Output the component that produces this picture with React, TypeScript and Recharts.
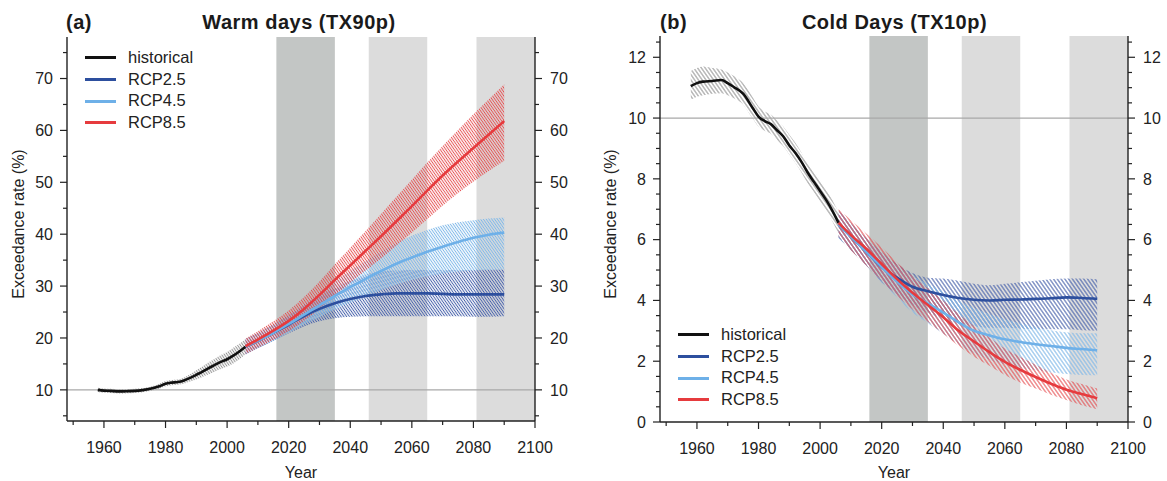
import React from 'react';
import { ComposedChart, Line, Area, XAxis, YAxis, ReferenceArea, ReferenceLine } from 'recharts';

// years
const histYears = [1958, 1960, 1962, 1965, 1968, 1970, 1972, 1975, 1978, 1980, 1982, 1984, 1986, 1988, 1990, 1992, 1994, 1996, 1998, 2000, 2002, 2004, 2006];
const rcpYears = [2006, 2010, 2015, 2020, 2025, 2030, 2035, 2040, 2045, 2050, 2055, 2060, 2065, 2070, 2075, 2080, 2085, 2090];

// (a) Warm days TX90p
const aHist = [10.0, 9.85, 9.8, 9.7, 9.75, 9.8, 9.9, 10.2, 10.7, 11.2, 11.4, 11.5, 11.8, 12.3, 12.9, 13.5, 14.2, 14.8, 15.4, 15.9, 16.6, 17.4, 18.3];
const aHistLow = [9.6, 9.45, 9.4, 9.3, 9.35, 9.4, 9.5, 9.8, 10.2, 10.7, 10.9, 11.0, 11.2, 11.6, 12.0, 12.5, 13.0, 13.5, 14.0, 14.5, 15.1, 15.9, 16.9];
const aHistHigh = [10.4, 10.25, 10.2, 10.1, 10.15, 10.2, 10.3, 10.6, 11.2, 11.7, 11.9, 12.0, 12.4, 13.0, 13.8, 14.5, 15.3, 16.0, 16.7, 17.3, 18.1, 18.9, 19.8];

const aRcp26 = [18.3, 19.5, 21.0, 22.6, 24.2, 25.6, 26.7, 27.5, 28.1, 28.4, 28.6, 28.6, 28.6, 28.5, 28.4, 28.4, 28.4, 28.4];
const aRcp26Low = [16.8, 18.0, 19.4, 20.9, 22.2, 23.2, 23.8, 24.1, 24.2, 24.2, 24.2, 24.2, 24.2, 24.2, 24.2, 24.1, 24.1, 24.2];
const aRcp26High = [19.8, 21.0, 22.6, 24.4, 26.2, 28.0, 29.6, 31.0, 32.2, 32.8, 33.0, 33.1, 33.1, 33.1, 33.1, 33.1, 33.2, 33.2];

const aRcp45 = [18.3, 19.5, 21.0, 22.7, 24.5, 26.3, 28.1, 29.8, 31.4, 32.9, 34.3, 35.5, 36.6, 37.6, 38.5, 39.3, 39.9, 40.3];
const aRcp45Low = [16.8, 18.0, 19.4, 21.0, 22.6, 24.0, 25.5, 26.8, 28.0, 29.2, 30.3, 31.2, 31.9, 32.4, 32.8, 33.0, 33.1, 33.2];
const aRcp45High = [19.8, 21.0, 22.6, 24.4, 26.4, 28.6, 30.8, 32.9, 34.8, 36.6, 38.3, 39.7, 40.8, 41.7, 42.3, 42.7, 43.0, 43.2];

const aRcp85 = [18.4, 19.7, 21.4, 23.3, 25.6, 28.3, 31.2, 34.0, 36.8, 39.6, 42.5, 45.4, 48.4, 51.3, 54.0, 56.6, 59.2, 61.8];
const aRcp85Low = [16.9, 18.1, 19.6, 21.3, 23.3, 25.7, 28.2, 30.7, 33.0, 35.3, 37.8, 40.3, 42.9, 45.5, 47.9, 50.1, 52.2, 54.1];
const aRcp85High = [19.9, 21.3, 23.2, 25.3, 27.9, 30.9, 34.2, 37.4, 40.6, 43.9, 47.2, 50.5, 53.8, 57.0, 60.1, 63.1, 66.0, 68.9];

// (b) Cold days TX10p
const bHist = [11.05, 11.15, 11.2, 11.22, 11.25, 11.15, 11.02, 10.8, 10.35, 10.05, 9.9, 9.8, 9.6, 9.4, 9.1, 8.85, 8.55, 8.2, 7.9, 7.6, 7.3, 6.95, 6.55];
const bHistLow = [10.6, 10.7, 10.75, 10.8, 10.82, 10.75, 10.65, 10.45, 10.0, 9.72, 9.58, 9.48, 9.28, 9.08, 8.8, 8.52, 8.2, 7.85, 7.56, 7.25, 6.95, 6.6, 6.2];
const bHistHigh = [11.55, 11.65, 11.7, 11.65, 11.6, 11.5, 11.38, 11.15, 10.7, 10.38, 10.22, 10.12, 9.92, 9.72, 9.45, 9.18, 8.85, 8.5, 8.24, 7.95, 7.65, 7.3, 6.9];

const bRcp26 = [6.5, 6.1, 5.6, 5.1, 4.75, 4.45, 4.3, 4.18, 4.08, 4.02, 4.0, 4.02, 4.03, 4.05, 4.07, 4.1, 4.08, 4.05];
const bRcp26Low = [6.05, 5.65, 5.15, 4.6, 4.2, 3.85, 3.6, 3.4, 3.25, 3.15, 3.1, 3.1, 3.08, 3.05, 3.05, 3.05, 3.02, 3.0];
const bRcp26High = [6.95, 6.55, 6.05, 5.6, 5.2, 4.9, 4.75, 4.72, 4.65, 4.55, 4.5, 4.55, 4.6, 4.65, 4.7, 4.72, 4.72, 4.7];

const bRcp45 = [6.5, 6.1, 5.6, 5.1, 4.62, 4.2, 3.9, 3.6, 3.28, 3.0, 2.85, 2.72, 2.63, 2.56, 2.5, 2.44, 2.4, 2.36];
const bRcp45Low = [6.05, 5.65, 5.15, 4.6, 4.1, 3.6, 3.25, 2.9, 2.55, 2.25, 2.05, 1.9, 1.78, 1.7, 1.63, 1.58, 1.55, 1.54];
const bRcp45High = [6.95, 6.55, 6.05, 5.6, 5.15, 4.8, 4.55, 4.3, 4.0, 3.75, 3.55, 3.38, 3.25, 3.12, 3.02, 2.95, 2.92, 2.92];

const bRcp85 = [6.55, 6.15, 5.7, 5.2, 4.7, 4.25, 3.85, 3.45, 3.0, 2.65, 2.3, 1.98, 1.72, 1.48, 1.26, 1.06, 0.92, 0.78];
const bRcp85Low = [6.1, 5.65, 5.15, 4.65, 4.15, 3.7, 3.3, 2.9, 2.5, 2.15, 1.85, 1.55, 1.3, 1.1, 0.9, 0.72, 0.55, 0.42];
const bRcp85High = [7.0, 6.65, 6.2, 5.75, 5.25, 4.8, 4.4, 4.0, 3.55, 3.15, 2.78, 2.42, 2.15, 1.88, 1.62, 1.4, 1.25, 1.1];

// ticks
const xMajor = [1960, 1980, 2000, 2020, 2040, 2060, 2080, 2100];
const xMinor = [1950, 1970, 1990, 2010, 2030, 2050, 2070, 2090];
const aYMajor = [10, 20, 30, 40, 50, 60, 70];
const aYMinor = [5, 15, 25, 35, 45, 55, 65, 75];
const bYMajor = [0, 2, 4, 6, 8, 10, 12];
const bYMinor = [0.5, 1, 1.5, 2.5, 3, 3.5, 4.5, 5, 5.5, 6.5, 7, 7.5, 8.5, 9, 9.5, 10.5, 11, 11.5, 12.5];

// periods shaded in grey
const nearPeriod = [2016, 2035];
const laterPeriods = [[2046, 2065], [2081, 2100]];

const legendItems = [
  { name: 'historical', color: '#111111' },
  { name: 'RCP2.5', color: '#2d4f9e' },
  { name: 'RCP4.5', color: '#6eb0e8' },
  { name: 'RCP8.5', color: '#e63b3e' },
];

const FONT = '"Liberation Sans", Arial, Helvetica, sans-serif';
const AX = '#222';

function buildRows(hist, histLow, histHigh, r26, r26Low, r26High, r45, r45Low, r45High, r85, r85Low, r85High) {
  const map = new Map();
  histYears.forEach((y, i) => {
    map.set(y, { year: y, hist: hist[i], histBand: [histLow[i], histHigh[i]] });
  });
  rcpYears.forEach((y, i) => {
    const row = map.get(y) || { year: y };
    row.r26 = r26[i];
    row.r26Band = [r26Low[i], r26High[i]];
    row.r45 = r45[i];
    row.r45Band = [r45Low[i], r45High[i]];
    row.r85 = r85[i];
    row.r85Band = [r85Low[i], r85High[i]];
    map.set(y, row);
  });
  return Array.from(map.values()).sort((p, q) => p.year - q.year);
}

const rowsA = buildRows(aHist, aHistLow, aHistHigh, aRcp26, aRcp26Low, aRcp26High, aRcp45, aRcp45Low, aRcp45High, aRcp85, aRcp85Low, aRcp85High);
const rowsB = buildRows(bHist, bHistLow, bHistHigh, bRcp26, bRcp26Low, bRcp26High, bRcp45, bRcp45Low, bRcp45High, bRcp85, bRcp85Low, bRcp85High);

const makeTick = (side: 'left' | 'right' | 'bottom', majors: number[]) => (props: any) => {
  const { x, y, payload } = props;
  const v = payload.value;
  const major = majors.includes(v);
  const len = major ? 7 : 4;
  const txt = { fontSize: 16, fontFamily: FONT, fill: AX };
  if (side === 'left') {
    return (
      <g>
        <line x1={x} x2={x - len} y1={y} y2={y} stroke={AX} strokeWidth={1.2} />
        {major && <text x={x - 14} y={y} dy="0.36em" textAnchor="end" style={txt}>{v}</text>}
      </g>
    );
  }
  if (side === 'right') {
    return (
      <g>
        <line x1={x} x2={x + len} y1={y} y2={y} stroke={AX} strokeWidth={1.2} />
        {major && <text x={x + 15} y={y} dy="0.36em" textAnchor="start" style={txt}>{v}</text>}
      </g>
    );
  }
  return (
    <g>
      <line x1={x} x2={x} y1={y} y2={y + len} stroke={AX} strokeWidth={1.2} />
      {major && <text x={x} y={y + 32} textAnchor="middle" style={txt}>{v}</text>}
    </g>
  );
};

function Hatch({ id, color, gap, sw }) {
  return (
    <pattern id={id} patternUnits="userSpaceOnUse" width={gap} height={10} patternTransform="rotate(-35)">
      <line x1={gap / 2} y1={0} x2={gap / 2} y2={10} stroke={color} strokeWidth={sw} />
    </pattern>
  );
}

function Panel({ pid, rows, yDomain, yMajor, yMinor, width, leftW, rightW, plotTop, plotBottom, gap, sw }) {
  const yTicks = [...yMajor, ...yMinor].sort((p, q) => p - q);
  const xTicks = [...xMajor, ...xMinor].sort((p, q) => p - q);
  const axisLine = { stroke: AX, strokeWidth: 1.4 };
  return (
    <ComposedChart width={width} height={481} data={rows} margin={{ top: plotTop, right: 0, bottom: 0, left: 0 }}>
      <defs>
        <Hatch id={`${pid}-hist`} color="#959595" gap={gap} sw={sw} />
        <Hatch id={`${pid}-r26`} color="#4862ab" gap={gap} sw={sw} />
        <Hatch id={`${pid}-r45`} color="#80b8e8" gap={gap} sw={sw} />
        <Hatch id={`${pid}-r85`} color="#e54447" gap={gap} sw={sw} />
      </defs>
      <XAxis xAxisId="top" orientation="top" type="number" dataKey="year" domain={[1948, 2100]} height={0} tick={false} tickLine={false} axisLine={axisLine} />
      <XAxis type="number" dataKey="year" domain={[1948, 2100]} ticks={xTicks} interval={0} allowDataOverflow
        height={481 - plotBottom} tickLine={false} tickSize={0} tickMargin={0} tick={makeTick('bottom', xMajor)} axisLine={axisLine} />
      <YAxis type="number" domain={yDomain} ticks={yTicks} interval={0} allowDataOverflow width={leftW}
        tickLine={false} tickSize={0} tickMargin={0} tick={makeTick('left', yMajor)} axisLine={axisLine} />
      <YAxis yAxisId="r" orientation="right" type="number" domain={yDomain} ticks={yTicks} interval={0} allowDataOverflow width={rightW}
        tickLine={false} tickSize={0} tickMargin={0} tick={makeTick('right', yMajor)} axisLine={axisLine} />

      <ReferenceArea x1={nearPeriod[0]} x2={nearPeriod[1]} fill="#c3c6c5" fillOpacity={1} stroke="none" />
      {laterPeriods.map(([p0, p1]) => (
        <ReferenceArea key={p0} x1={p0} x2={p1} fill="#dcdcdc" fillOpacity={1} stroke="none" />
      ))}
      <ReferenceLine y={10} stroke="#a8a8a8" strokeWidth={1.3} />

      <Area dataKey="histBand" type="monotone" fill={`url(#${pid}-hist)`} fillOpacity={1} stroke="none" isAnimationActive={false} />
      <Area dataKey="r26Band" type="monotone" fill={`url(#${pid}-r26)`} fillOpacity={1} stroke="none" isAnimationActive={false} />
      <Area dataKey="r45Band" type="monotone" fill={`url(#${pid}-r45)`} fillOpacity={1} stroke="none" isAnimationActive={false} />
      <Area dataKey="r85Band" type="monotone" fill={`url(#${pid}-r85)`} fillOpacity={0.9} stroke="none" isAnimationActive={false} />

      <Line dataKey="hist" type="monotone" stroke={legendItems[0].color} strokeWidth={2.6} dot={false} isAnimationActive={false} />
      <Line dataKey="r26" type="monotone" stroke={legendItems[1].color} strokeWidth={2.6} dot={false} isAnimationActive={false} />
      <Line dataKey="r45" type="monotone" stroke={legendItems[2].color} strokeWidth={2.6} dot={false} isAnimationActive={false} />
      <Line dataKey="r85" type="monotone" stroke={legendItems[3].color} strokeWidth={2.6} dot={false} isAnimationActive={false} />
    </ComposedChart>
  );
}

function LegendBox({ left, top }) {
  return (
    <div style={{ position: 'absolute', left, top, fontFamily: FONT, fontSize: 16.5, color: AX, lineHeight: '21.7px' }}>
      {legendItems.map((it) => (
        <div key={it.name} style={{ display: 'flex', alignItems: 'center', height: 21.7 }}>
          <span style={{ display: 'inline-block', width: 31, height: 3, background: it.color, marginRight: 12 }} />
          <span>{it.name}</span>
        </div>
      ))}
    </div>
  );
}

export default function App() {
  const title = { fontFamily: FONT, fontSize: 20, fontWeight: 700, fill: '#1a1a1a', letterSpacing: 0.5 };
  const lab = { fontFamily: FONT, fontSize: 16, fill: AX };
  return (
    <div style={{ position: 'absolute', left: 0, top: 0, width: 1167, height: 481, background: '#fff', overflow: 'hidden' }}>
      <div style={{ position: 'absolute', left: 0, top: 0 }}>
        <Panel pid="a" rows={rowsA} yDomain={[4, 78]} yMajor={aYMajor} yMinor={aYMinor}
          width={580} leftW={67} rightW={45} plotTop={37} plotBottom={421} gap={2.3} sw={1} />
      </div>
      <div style={{ position: 'absolute', left: 580, top: 0 }}>
        <Panel pid="b" rows={rowsB} yDomain={[0, 12.7]} yMajor={bYMajor} yMinor={bYMinor}
          width={587} leftW={80} rightW={39} plotTop={36} plotBottom={422} gap={3.1} sw={1} />
      </div>
      <svg width={1167} height={481} style={{ position: 'absolute', left: 0, top: 0, pointerEvents: 'none' }}>
        <text x={66} y={29} style={title}>(a)</text>
        <text x={299} y={28.5} textAnchor="middle" style={title}>Warm days (TX90p)</text>
        <text x={660} y={29} style={title}>(b)</text>
        <text x={894.5} y={28.5} textAnchor="middle" style={title}>Cold Days (TX10p)</text>
        <text x={18} y={224} dy="0.36em" textAnchor="middle" transform="rotate(-90 18 224)" style={lab}>Exceedance rate (%)</text>
        <text x={610} y={224} dy="0.36em" textAnchor="middle" transform="rotate(-90 610 224)" style={lab}>Exceedance rate (%)</text>
        <text x={301} y={478} textAnchor="middle" style={lab}>Year</text>
        <text x={894} y={478} textAnchor="middle" style={lab}>Year</text>
      </svg>
      <LegendBox left={85} top={47} />
      <LegendBox left={678} top={324} />
    </div>
  );
}
